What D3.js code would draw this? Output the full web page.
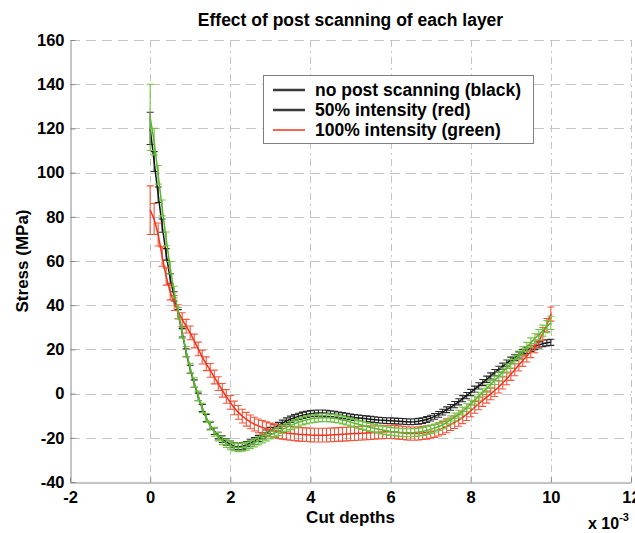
<!DOCTYPE html>
<html>
<head>
<meta charset="utf-8">
<script src="https://cdn.jsdelivr.net/npm/d3@7"></script>
<style>
  html, body { margin: 0; padding: 0; background: #fff; }
  svg { display: block; font-family: "Liberation Sans", Arial, Helvetica, sans-serif; font-weight: bold; }
</style>
</head>
<body>
<svg id="chart" width="635" height="533"></svg>
<script>
// Cut depth (x 10^-3)
const depth = [
  0,0.1,0.2,0.3,0.4,0.5,0.6,0.7,0.8,0.9,
  1,1.1,1.2,1.3,1.4,1.5,1.6,1.7,1.8,1.9,
  2,2.1,2.2,2.3,2.4,2.5,2.6,2.7,2.8,2.9,
  3,3.1,3.2,3.3,3.4,3.5,3.6,3.7,3.8,3.9,
  4,4.1,4.2,4.3,4.4,4.5,4.6,4.7,4.8,4.9,
  5,5.1,5.2,5.3,5.4,5.5,5.6,5.7,5.8,5.9,
  6,6.1,6.2,6.3,6.4,6.5,6.6,6.7,6.8,6.9,
  7,7.1,7.2,7.3,7.4,7.5,7.6,7.7,7.8,7.9,
  8,8.1,8.2,8.3,8.4,8.5,8.6,8.7,8.8,8.9,
  9,9.1,9.2,9.3,9.4,9.5,9.6,9.7,9.8,9.9,
  10
];

// Stress (MPa): no post scanning
const stressBlack = [
  120,105,90,76,63,52,44,36,27.5,18.5,
  11,4.5,-1.5,-6.5,-11,-14.5,-17,-19,-20.6,-21.8,
  -23,-23.8,-24,-23.8,-23.2,-22.4,-21.4,-20.3,-19.1,-17.9,
  -16.7,-15.5,-14.4,-13.4,-12.4,-11.6,-10.9,-10.3,-9.8,-9.4,
  -9.1,-8.9,-8.8,-8.8,-8.9,-9.1,-9.3,-9.6,-9.9,-10.2,
  -10.5,-10.8,-11,-11.2,-11.4,-11.6,-11.8,-12,-12.1,-12.2,
  -12.3,-12.4,-12.5,-12.6,-12.7,-12.8,-12.7,-12.5,-12.2,-11.7,
  -11.1,-10.3,-9.4,-8.4,-7.3,-6.2,-5,-3.7,-2.3,-0.9,
  0.5,2,3.5,5,6.5,8,9.5,11,12.4,13.8,
  15.1,16.3,17.5,18.6,19.6,20.5,21.3,22,22.6,23,
  23.2
];
const errBlack = [
  7.3,4.5,3.5,3,2.6,2.3,2.1,2,1.9,1.8,
  1.8,1.7,1.7,1.6,1.6,1.6,1.5,1.5,1.5,1.5,
  1.5,1.5,1.5,1.5,1.5,1.5,1.5,1.4,1.4,1.4,
  1.4,1.4,1.4,1.4,1.4,1.4,1.4,1.4,1.4,1.4,
  1.4,1.4,1.4,1.4,1.4,1.3,1.3,1.3,1.3,1.3,
  1.3,1.3,1.3,1.3,1.3,1.3,1.3,1.3,1.3,1.3,
  1.3,1.3,1.3,1.3,1.3,1.3,1.3,1.3,1.3,1.3,
  1.3,1.3,1.3,1.3,1.3,1.3,1.4,1.4,1.4,1.4,
  1.4,1.4,1.4,1.4,1.4,1.4,1.4,1.4,1.4,1.4,
  1.4,1.4,1.4,1.4,1.4,1.4,1.4,1.4,1.4,1.4,
  1.4
];

// Stress (MPa): 50% intensity
const stressRed = [
  83,79,72,62,53,46,41,37,33.5,30.5,
  27.5,23.8,20.2,16.5,13.5,10.5,7.5,4.5,1.5,-1.3,
  -4,-6.5,-8.5,-10.2,-11.6,-12.8,-13.8,-14.6,-15.3,-15.9,
  -16.4,-16.8,-17.2,-17.5,-17.8,-18,-18.2,-18.4,-18.5,-18.6,
  -18.7,-18.8,-18.8,-18.8,-18.8,-18.7,-18.6,-18.5,-18.4,-18.3,
  -18.2,-18.1,-18,-17.9,-17.8,-17.7,-17.6,-17.5,-17.4,-17.3,
  -17.3,-17.4,-17.6,-17.8,-18,-18.1,-18.1,-18,-17.8,-17.6,
  -17.3,-16.9,-16.3,-15.6,-14.8,-13.9,-13,-12,-10.8,-9.4,
  -7.8,-6.2,-4.6,-3.1,-1.6,-0.1,1.4,3,4.8,6.7,
  8.7,10.8,12.9,15,17,19,21.2,23.8,27,31,
  36
];
const errRed = [
  11,7,5.2,4.4,3.9,3.6,3.4,3.2,3.1,3.1,
  3.1,3.1,3.1,3.1,3.1,3.1,3.1,3.1,3.1,3.1,
  3.1,3.1,3.1,3.1,3.1,3.1,3.1,3.1,3.1,3.1,
  3.1,3.1,3.1,3.1,3.1,3.1,3.1,3.1,3.1,3.1,
  3.1,3.1,3.1,3.1,3.1,3.1,3.1,3.1,3.1,3.1,
  3.1,3.1,3.1,3.1,3.1,3.1,3,3,3,3,
  3,3,3,3,3,3,3,3,3,3,
  2.9,2.9,2.9,2.9,2.9,2.8,2.8,2.8,2.8,2.8,
  2.7,2.7,2.7,2.7,2.7,2.7,2.7,2.7,2.7,2.7,
  2.7,2.7,2.7,2.7,2.7,2.7,2.7,2.8,2.9,3,
  3.2
];

// Stress (MPa): 100% intensity
const stressGreen = [
  125,114,99,84,70,57,46,36.5,27.5,19,
  11.5,5,-1,-6.5,-11,-14.5,-17.3,-19.5,-21.2,-22.5,
  -23.5,-24.2,-24.5,-24.3,-23.8,-23.1,-22.3,-21.4,-20.5,-19.6,
  -18.7,-17.8,-17.2,-16.2,-15.3,-14.5,-13.7,-13,-12.4,-11.9,
  -11.5,-11.2,-11,-10.9,-10.9,-11,-11.2,-11.5,-11.9,-12.4,
  -12.9,-13.4,-13.9,-14.4,-14.9,-15.3,-15.7,-16.1,-16.5,-16.8,
  -17.1,-17.3,-17.5,-17.6,-17.7,-17.7,-17.6,-17.4,-17.1,-16.7,
  -16.2,-15.6,-14.9,-14.1,-13.1,-11.9,-10.6,-9.3,-7.9,-6.4,
  -4.8,-3,-1.2,0.6,2.4,4.2,6,7.8,9.7,11.6,
  13.5,15.4,17.3,19.2,21.1,23,24.9,26.7,28.5,30.3,
  32
];
const errGreen = [
  15,6,4.2,3.6,3.1,2.8,2.6,2.5,2.4,2.3,
  2.2,2.2,2.1,2.1,2,2,2,1.9,1.9,1.9,
  1.9,1.8,1.8,1.8,1.8,1.8,1.8,1.8,1.8,1.8,
  1.8,1.8,1.8,1.8,1.8,1.8,1.8,1.8,1.8,1.8,
  1.8,1.8,1.8,1.8,1.8,1.8,1.8,1.8,1.8,1.8,
  1.8,1.8,1.8,1.8,1.8,1.8,1.8,1.8,1.8,1.8,
  1.8,1.8,1.8,1.8,1.8,1.8,1.8,1.8,1.8,1.8,
  1.8,1.8,1.8,1.8,1.8,1.8,1.8,1.8,1.8,1.8,
  1.8,1.8,1.8,1.8,1.8,1.8,1.9,1.9,1.9,1.9,
  2,2,2,2.1,2.1,2.2,2.2,2.3,2.5,2.7,
  3
];

const xTicks = [-2, 0, 2, 4, 6, 8, 10, 12];
const yTicks = [-40, -20, 0, 20, 40, 60, 80, 100, 120, 140, 160];
const legendLabels = ["no post scanning (black)", "50% intensity (red)", "100% intensity (green)"];

const plot = { left: 70, right: 631, top: 40, bottom: 482 };

const svg = d3.select("#chart");
const x = d3.scaleLinear().domain([-2, 12]).range([plot.left, plot.right]);
const y = d3.scaleLinear().domain([-40, 160]).range([plot.bottom, plot.top]);

// dashed grid
const grid = svg.append("g").attr("stroke", "#c4c4c4").attr("stroke-width", 1).attr("fill", "none");
grid.selectAll("line.h").data(yTicks.filter(v => v !== -40)).join("line")
  .attr("x1", plot.left).attr("x2", plot.right)
  .attr("y1", d => Math.round(y(d)) + 0.5).attr("y2", d => Math.round(y(d)) + 0.5)
  .attr("stroke-dasharray", "10,6");
grid.selectAll("line.v").data(xTicks.filter(v => v !== -2)).join("line")
  .attr("y1", plot.top).attr("y2", plot.bottom)
  .attr("x1", d => Math.round(x(d)) + 0.5).attr("x2", d => Math.round(x(d)) + 0.5)
  .attr("stroke-dasharray", "7,4,2,4");

// axes (ticks point into the plot)
const fmt = d => String(d);
const xAxis = d3.axisBottom(x).tickValues(xTicks).tickFormat(fmt).tickSizeInner(-5).tickSizeOuter(0).tickPadding(9);
const yAxis = d3.axisLeft(y).tickValues(yTicks).tickFormat(fmt).tickSizeInner(-5).tickSizeOuter(0).tickPadding(6);

const gx = svg.append("g").attr("transform", `translate(0,${plot.bottom + 0.5})`).call(xAxis);
const gy = svg.append("g").attr("transform", `translate(${plot.left + 0.5},0)`).call(yAxis);
[gx, gy].forEach(g => {
  g.select(".domain").attr("stroke", "#8a8a8a");
  g.selectAll(".tick line").attr("stroke", "#8a8a8a");
  g.selectAll(".tick text").attr("fill", "#000").style("font-size", "16.5px")
    .style("font-family", "'Liberation Sans', Arial, sans-serif").style("font-weight", "bold");
});

// series: line + error bars
const series = [
  { v: stressBlack, e: errBlack, color: "#141414", bar: "#2a2a2a" },
  { v: stressRed, e: errRed, color: "#f0321e", bar: "#f5563a" },
  { v: stressGreen, e: errGreen, color: "#5cb531", bar: "#73c446" }
];

const line = d3.line().x(d => x(d[0])).y(d => y(d[1]));
const cap = 3.5;

series.forEach(s => {
  const pts = depth.map((d, i) => [d, s.v[i], s.e[i]]);
  const g = svg.append("g");
  const p = d3.path();
  pts.forEach(([d, v, e]) => {
    const px = x(d), lo = y(v - e), hi = y(v + e);
    p.moveTo(px, lo); p.lineTo(px, hi);
    p.moveTo(px - cap, hi); p.lineTo(px + cap, hi);
    p.moveTo(px - cap, lo); p.lineTo(px + cap, lo);
  });
  g.append("path").attr("d", p.toString()).attr("fill", "none")
    .attr("stroke", s.bar).attr("stroke-width", 1.1);
  g.append("path").datum(pts).attr("d", line).attr("fill", "none")
    .attr("stroke", s.color).attr("stroke-width", 1.5);
});

// title and axis labels
svg.append("text").attr("x", (plot.left + plot.right) / 2).attr("y", 26)
  .attr("text-anchor", "middle").style("font-size", "17.5px")
  .text("Effect of post scanning of each layer");

svg.append("text").attr("x", (plot.left + plot.right) / 2).attr("y", 523)
  .attr("text-anchor", "middle").style("font-size", "17px").text("Cut depths");

svg.append("text")
  .attr("transform", `translate(28,${(plot.top + plot.bottom) / 2}) rotate(-90)`)
  .attr("text-anchor", "middle").style("font-size", "17px").text("Stress (MPa)");

const exp = svg.append("text").attr("x", 588).attr("y", 529).style("font-size", "16px");
exp.append("tspan").text("x 10");
exp.append("tspan").attr("dy", -8).style("font-size", "11px").text("-3");

// legend
const lg = svg.append("g");
lg.append("rect").attr("x", 263.5).attr("y", 75.5).attr("width", 270).attr("height", 68)
  .attr("fill", "#fff").attr("stroke", "#808080");
const legendStyle = [
  { color: "#3a3a3a", w: 2.5 },
  { color: "#3a3a3a", w: 2.5 },
  { color: "#f0321e", w: 1.5 }
];
legendLabels.forEach((t, i) => {
  const ly = 90 + i * 20;
  lg.append("line").attr("x1", 273).attr("x2", 305).attr("y1", ly).attr("y2", ly)
    .attr("stroke", legendStyle[i].color).attr("stroke-width", legendStyle[i].w);
  lg.append("text").attr("x", 315).attr("y", ly + 6).style("font-size", "17.5px").text(t);
});
</script>
</body>
</html>
